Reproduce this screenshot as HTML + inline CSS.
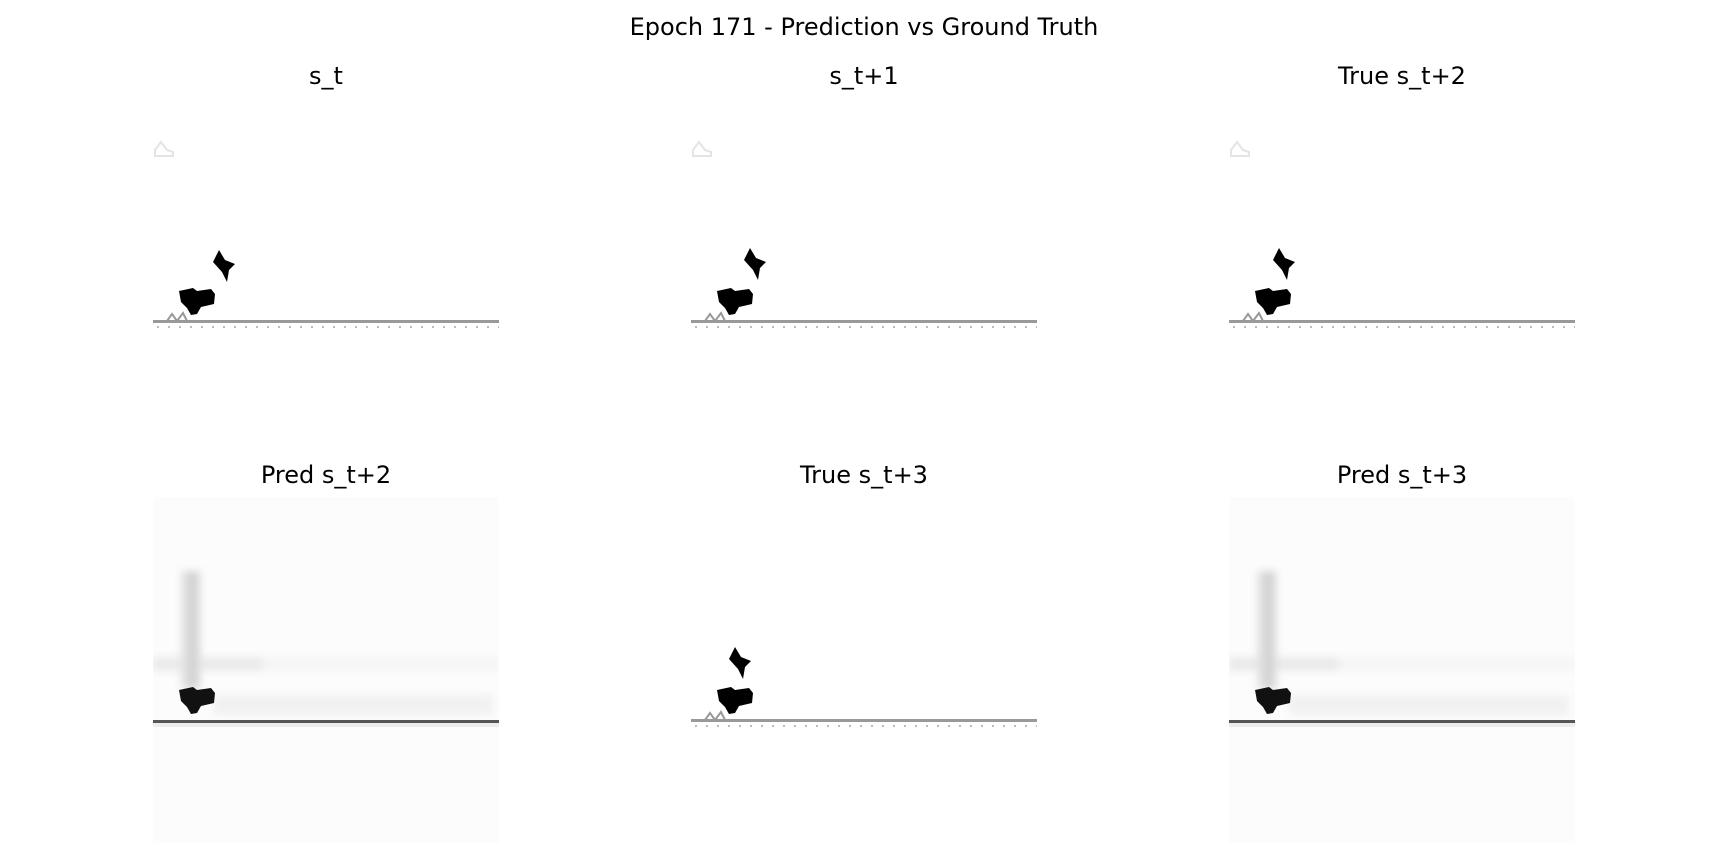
<!DOCTYPE html>
<html><head><meta charset="utf-8"><style>
body{margin:0;background:#fff;width:1728px;height:864px;overflow:hidden;font-family:"DejaVu Sans","Liberation Sans",sans-serif;}
.t{position:absolute;transform:translate(-50%,-50%);font-size:24px;color:#000;white-space:nowrap}
svg.p{position:absolute;width:346px;height:346px}
</style></head><body>
<div class="t" style="left:864px;top:27px">Epoch 171 - Prediction vs Ground Truth</div>
<div class="t" style="left:326px;top:76px">s_t</div>
<div class="t" style="left:864px;top:76px">s_t+1</div>
<div class="t" style="left:1402px;top:76px">True s_t+2</div>
<div class="t" style="left:326px;top:475px">Pred s_t+2</div>
<div class="t" style="left:864px;top:475px">True s_t+3</div>
<div class="t" style="left:1402px;top:475px">Pred s_t+3</div>
<div id="root"></div>
<script>
const panels=[
 {name:'panel-s-t',x:153,y:98,pred:false,birdX:60,birdY:152,cloud:true},
 {name:'panel-s-t1',x:691,y:98,pred:false,birdX:53,birdY:150,cloud:true},
 {name:'panel-true-t2',x:1229,y:98,pred:false,birdX:44,birdY:150,cloud:true},
 {name:'panel-pred-t2',x:153,y:497,pred:true},
 {name:'panel-true-t3',x:691,y:497,pred:false,birdX:38,birdY:150,cloud:false},
 {name:'panel-pred-t3',x:1229,y:497,pred:true}
];
const NS='http://www.w3.org/2000/svg';
function el(t,a){const e=document.createElementNS(NS,t);for(const k in a)e.setAttribute(k,a[k]);return e;}
panels.forEach((p,i)=>{
 const s=el('svg',{class:'p',viewBox:'0 0 346 346'});
 s.style.left=p.x+'px';s.style.top=p.y+'px';
 
 
 if(p.pred){
  const f=el('filter',{id:'bl'+i});f.appendChild(el('feGaussianBlur',{stdDeviation:4}));s.appendChild(f);
  s.appendChild(el('rect',{x:0,y:0,width:346,height:346,fill:'#fcfcfc'}));
  const g=el('g',{filter:'url(#bl'+i+')'});
  g.appendChild(el('rect',{x:0,y:160,width:346,height:14,fill:'#f5f5f5'}));
  g.appendChild(el('rect',{x:0,y:160,width:110,height:14,fill:'#eaeaea'}));
  g.appendChild(el('rect',{x:60,y:198,width:280,height:20,fill:'#f1f1f1'}));
  g.appendChild(el('rect',{x:28,y:74,width:20,height:118,fill:'#e2e2e2'}));
  g.appendChild(el('rect',{x:35,y:74,width:9,height:118,fill:'#d2d2d2'}));
  s.appendChild(g);
  s.appendChild(el('rect',{x:0,y:223,width:346,height:3,fill:'#555'}));
  s.appendChild(el('rect',{x:0,y:226,width:346,height:4,fill:'#ececec'}));
  s.appendChild(el('path',{d:'M26 193 L40 190 L44 193 L58 191 L62 196 L61 206 L48 209 L44 216 L38 217 L34 210 L28 204 Z',fill:'#111'}));
 } else {
  if(p.cloud) s.appendChild(el('path',{d:'M2 44 L8 36 L14 44 L20 46 L20 50 L2 50 Z',fill:'none',stroke:'#e4e4e4','stroke-width':2,transform:'translate(0,8)'}));
  s.appendChild(el('rect',{x:0,y:222,width:346,height:3,fill:'#999'}));
  s.appendChild(el('path',{d:'M0 223 L14 223 L19 216 L24 223 L30 215 L34 223',fill:'none',stroke:'#999','stroke-width':2}));
  for(let k=4;k<346;k+=11){s.appendChild(el('rect',{x:k,y:228,width:2,height:2,fill:'#bbb'}));}
  s.appendChild(el('path',{d:'M26 193 L40 190 L44 193 L58 191 L62 196 L61 206 L48 209 L44 216 L38 217 L34 210 L28 204 Z',fill:'#000'}));
  const bx=p.birdX,by=p.birdY;
  s.appendChild(el('path',{d:`M${bx} ${by+12} L${bx+6} ${by} L${bx+12} ${by+10} L${bx+22} ${by+14} L${bx+16} ${by+20} L${bx+14} ${by+32} L${bx+9} ${by+22} Z`,fill:'#000'}));
 }
 document.getElementById('root').appendChild(s);
});
</script>
</body></html>
